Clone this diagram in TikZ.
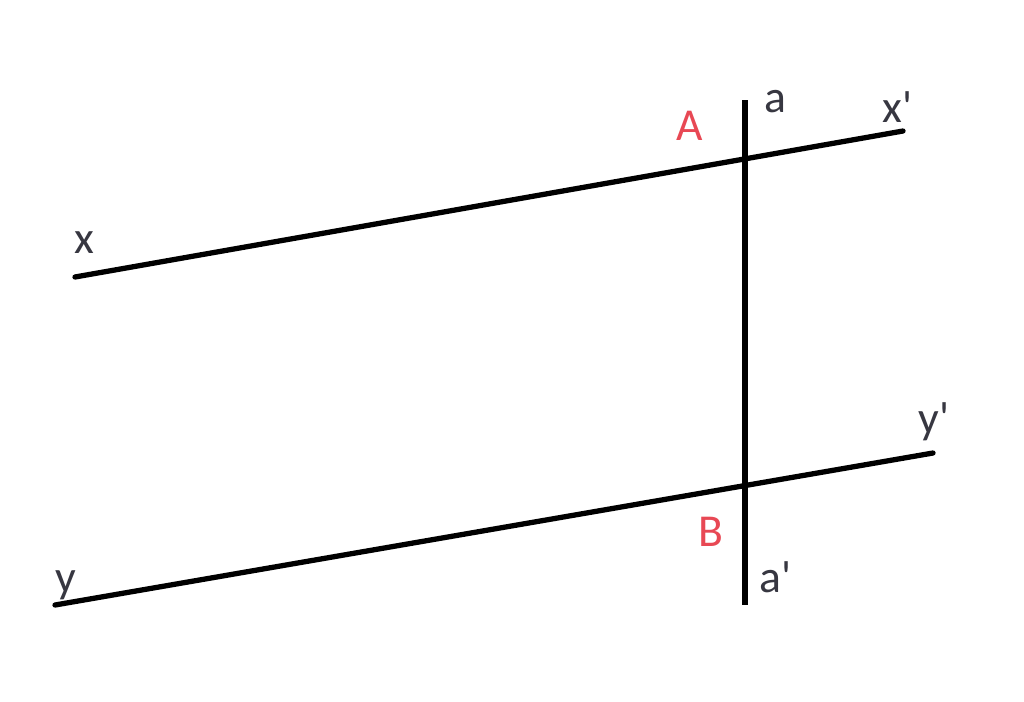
\documentclass[tikz,border=0pt]{standalone}
\usepackage{fontspec}
\setmainfont{Carlito}
\definecolor{lbl}{RGB}{55,55,65}
\definecolor{pt}{RGB}{232,72,84}
\newcommand{\pr}{\textquotesingle}
\begin{document}
\begin{tikzpicture}[x=0.02cm,y=-0.02cm,
  ln/.style={line width=3pt,black},
  lab/.style={inner sep=0pt,text=lbl,font=\fontsize{26}{30}\selectfont},
  ptlab/.style={lab,text=pt}]
\useasboundingbox (0,0) rectangle (1024,701);
\coordinate (x) at (75,277);
\coordinate (xp) at (903,131);
\coordinate (y) at (55,605);
\coordinate (yp) at (933,453);
\coordinate (a) at (745,100);
\coordinate (ap) at (745,605);
\draw[ln,line cap=round] (x) -- (xp);
\draw[ln,line cap=round] (y) -- (yp);
\draw[ln] (a) -- (ap);
\node[ptlab,anchor=base] (lA) at (690,140) {A};
\node[ptlab,anchor=base] (lB) at (711,546) {B};
\node[lab,anchor=base] (la) at (775,112) {a};
\node[lab,anchor=base west] (lap) at (759,592) {a\pr};
\node[lab,anchor=base west] (lxp) at (882,122) {x\pr};
\node[lab,anchor=base west] (lyp) at (918,433) {y\pr};
\node[lab,anchor=base west] (lx) at (74,253) {x};
\node[lab,anchor=base west] (ly) at (55,592) {y};
\end{tikzpicture}
\end{document}
